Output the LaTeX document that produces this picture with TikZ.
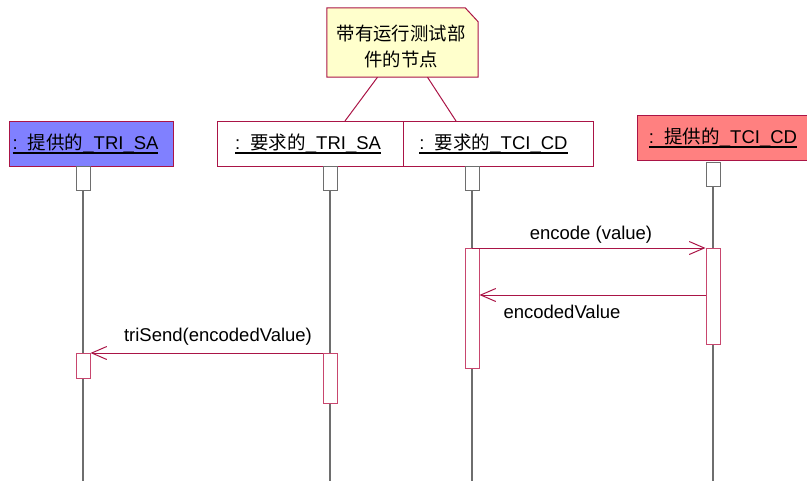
\documentclass[tikz,border=0pt]{standalone}
\usepackage{fontspec}
\setmainfont{Liberation Sans}
\newfontfamily\cjk{Noto Sans CJK SC}
\usetikzlibrary{arrows.meta}
\newcommand{\zh}[1]{{\cjk #1}}
\newcommand{\ulbox}[1]{\setbox0\hbox{#1}\rlap{\rule[-4.5pt]{\wd0}{1.8pt}}\box0}
\definecolor{edge}{RGB}{170,20,70}
\definecolor{actc}{RGB}{200,70,110}
\definecolor{life}{RGB}{110,110,110}
\definecolor{notefill}{RGB}{255,255,204}
\definecolor{blueobj}{RGB}{128,128,255}
\definecolor{redobj}{RGB}{255,128,128}
\begin{document}
\begin{tikzpicture}[x=1pt,y=-1pt,
  obj/.style={draw=edge, line width=1pt, minimum height=45pt, inner sep=0pt, anchor=north west, font=\fontsize{18.5}{22}\selectfont},
  head/.style={draw=life, fill=white, line width=1pt, minimum width=14pt, minimum height=24pt, inner sep=0pt, anchor=north},
  act/.style={draw=actc, fill=white, line width=1pt, minimum width=14pt, inner sep=0pt, anchor=north},
  msg/.style={draw=edge, line width=1pt, -{Straight Barb[length=15pt,width=13pt,line width=1pt]}},
  lbl/.style={font=\fontsize{18.5}{22}\selectfont, inner sep=0pt},
  lifeline/.style={draw=life, line width=1.5pt},
  notelink/.style={draw=edge, line width=1pt}]
\useasboundingbox (0,0) rectangle (807,480);
% note
\node[minimum width=151pt, minimum height=69pt, inner sep=0pt] (note) at (402.5,42.5) {};
\draw[draw=edge, fill=notefill, line width=1pt] (note.north west) -- ([xshift=-13pt]note.north east) -- ([yshift=-14pt]note.north east) -- (note.south east) -- (note.south west) -- cycle;
\node[align=center, inner sep=0pt, font=\cjk\fontsize{18.4}{26}\selectfont] (notetxt) at (401,46) {带有运行测试部\\件的节点};
% objects
\node[obj, fill=blueobj, minimum width=164pt] (o1) at (9,121) {\ulbox{:\ \ \zh{提供的}\_TRI\_SA}\kern12pt};
\node[obj, fill=white, minimum width=186pt] (o2) at (217,121) {\ulbox{:\ \ \zh{要求的}\_TRI\_SA}\kern5pt};
\node[obj, fill=white, minimum width=190pt] (o3) at (403,121) {\ulbox{:\ \ \zh{要求的}\_TCI\_CD}\kern10pt};
\node[obj, fill=redobj, minimum width=171pt] (o4) at (637,115) {\ulbox{:\ \ \zh{提供的}\_TCI\_CD}};
% note links
\draw[notelink] ([xshift=-25pt]note.south) -- ([xshift=128pt]o2.north west);
\draw[notelink] ([xshift=25pt]note.south) -- ([xshift=53pt]o3.north west);
% heads
\node[head] (h1) at (83,166) {};
\node[head] (h2) at (330,166) {};
\node[head] (h3) at (472,166) {};
\node[head] (h4) at (713,162) {};
\coordinate (e1) at (83,481);
\coordinate (e2) at (330,481);
\coordinate (e3) at (472,481);
\coordinate (e4) at (713,481);
\draw[lifeline] (h1.south) -- (e1);
\draw[lifeline] (h2.south) -- (e2);
\draw[lifeline] (h3.south) -- (e3);
\draw[lifeline] (h4.south) -- (e4);
% activations
\node[act, minimum height=120pt] (a3) at (472,248) {};
\node[act, minimum height=96pt] (a4) at (713,248) {};
\node[act, minimum height=25pt] (a1) at (83,353) {};
\node[act, minimum height=50pt] (a2) at (330,353) {};
% messages
\draw[msg] (a3.north) -- (a4.north west);
\coordinate (r) at (0,295);
\draw[msg] (a4.west |- r) -- (a3.east |- r);
\draw[msg] (a2.north west) -- (a1.north east);
% labels
\node[lbl] (l1) at (591,235) {encode (value)};
\node[lbl] (l2) at (562,312) {encodedValue};
\node[lbl] (l3) at (218,337) {triSend(encodedValue)};
\end{tikzpicture}
\end{document}
